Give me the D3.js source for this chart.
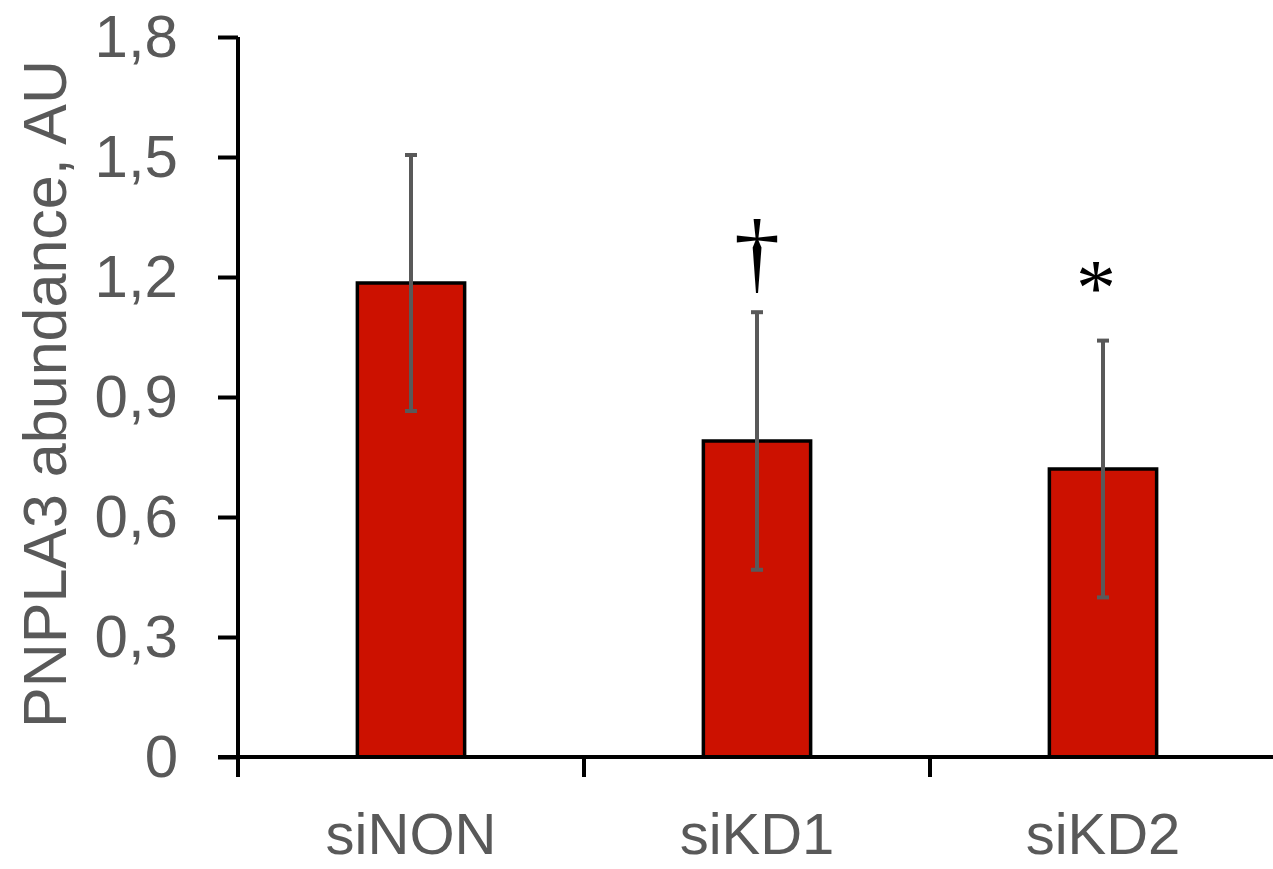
<!DOCTYPE html>
<html>
<head>
<meta charset="utf-8">
<script src="https://cdn.jsdelivr.net/npm/d3@7"></script>
<style>
  body { margin: 0; background: #fff; }
  svg { display: block; }
</style>
</head>
<body>
<svg id="chart" width="1273" height="869"></svg>
<script>
var categories = ["siNON", "siKD1", "siKD2"];
var means = [1.185, 0.79, 0.72];
var sds = [0.32, 0.322, 0.321];
var marks = ["", "\u2020", "*"];
var yTicks = [0, 0.3, 0.6, 0.9, 1.2, 1.5, 1.8];

var w = 1273, h = 869;
var svg = d3.select("#chart");

var x = d3.scaleBand()
	.domain(categories)
	.range([238, 1276])
	.padding(0);
var y = d3.scaleLinear()
	.domain([0, 1.8])
	.range([757, 37]);

var barW = x.bandwidth() * 0.31;
var grey = "#595959";

// bars
svg.selectAll("rect.bar")
	.data(categories)
	.enter().append("rect")
	.attr("class", "bar")
	.attr("x", function(d){ return x(d) + x.bandwidth() / 2 - barW / 2; })
	.attr("y", function(d, i){ return y(means[i]); })
	.attr("width", barW)
	.attr("height", function(d, i){ return y(0) - y(means[i]); })
	.attr("fill", "#cc1100")
	.attr("stroke", "#000")
	.attr("stroke-width", 3.5);

// error bars
var eb = svg.selectAll("g.err")
	.data(categories)
	.enter().append("g")
	.attr("class", "err")
	.attr("transform", function(d){ return "translate(" + (x(d) + x.bandwidth() / 2) + ",0)"; });
eb.append("line")
	.attr("x1", 0).attr("x2", 0)
	.attr("y1", function(d, i){ return y(means[i] - sds[i]); })
	.attr("y2", function(d, i){ return y(means[i] + sds[i]); })
	.attr("stroke", grey)
	.attr("stroke-width", 4);
eb.selectAll("line.cap")
	.data(function(d, i){ return [means[i] - sds[i], means[i] + sds[i]]; })
	.enter().append("line")
	.attr("class", "cap")
	.attr("x1", -6).attr("x2", 6)
	.attr("y1", function(v){ return y(v); })
	.attr("y2", function(v){ return y(v); })
	.attr("stroke", grey)
	.attr("stroke-width", 4);

// significance marks (dagger / asterisk above error bars)
svg.selectAll("text.sig")
	.data(categories)
	.enter().append("text")
	.attr("class", "sig")
	.attr("x", function(d, i){ return x(d) + x.bandwidth() / 2 - (i == 2 ? 7 : 0); })
	.attr("y", function(d, i){ return y(means[i] + sds[i]) - (i == 1 ? 30 : 26); })
	.attr("text-anchor", "middle")
	.attr("font-family", "'Liberation Serif', 'DejaVu Serif', serif")
	.attr("font-size", function(d, i){ return i == 1 ? "92px" : "80px"; })
	.attr("fill", "#000")
	.text(function(d, i){ return marks[i]; });

// y axis
var yAxis = d3.axisLeft(y)
	.tickValues(yTicks)
	.tickSize(20)
	.tickPadding(40)
	.tickFormat(function(d){ return d3.format(".1f")(d).replace(".", ",").replace(/^0,0$/, "0"); });
var gy = svg.append("g")
	.attr("transform", "translate(238,0)")
	.call(yAxis);
gy.select(".domain").attr("d", "M0," + y(1.8) + "V" + y(0)).attr("stroke", "#000").attr("stroke-width", 4);
gy.selectAll(".tick line").attr("stroke", "#000").attr("stroke-width", 4);
gy.selectAll(".tick text")
	.attr("font-family", "'Liberation Sans', Arial, sans-serif")
	.attr("font-size", "60px")
	.attr("fill", grey);

// x axis
var xAxis = d3.axisBottom(x).tickSize(0).tickPadding(56);
var gx = svg.append("g")
	.attr("transform", "translate(0," + y(0) + ")")
	.call(xAxis);
gx.select(".domain").attr("d", "M218,0H1273").attr("stroke", "#000").attr("stroke-width", 4);
gx.selectAll(".tick text")
	.attr("font-family", "'Liberation Sans', Arial, sans-serif")
	.attr("font-size", "58px")
	.attr("fill", grey);
// category boundary ticks
gx.selectAll("line.bound")
	.data(categories)
	.enter().append("line")
	.attr("class", "bound")
	.attr("x1", function(d){ return x(d); })
	.attr("x2", function(d){ return x(d); })
	.attr("y1", 0).attr("y2", 20)
	.attr("stroke", "#000")
	.attr("stroke-width", 4);

// y title
svg.append("text")
	.attr("transform", "translate(66,394) rotate(-90)")
	.attr("text-anchor", "middle")
	.attr("font-family", "'Liberation Sans', Arial, sans-serif")
	.attr("font-size", "61px")
	.attr("fill", grey)
	.text("PNPLA3 abundance, AU");
</script>
</body>
</html>
